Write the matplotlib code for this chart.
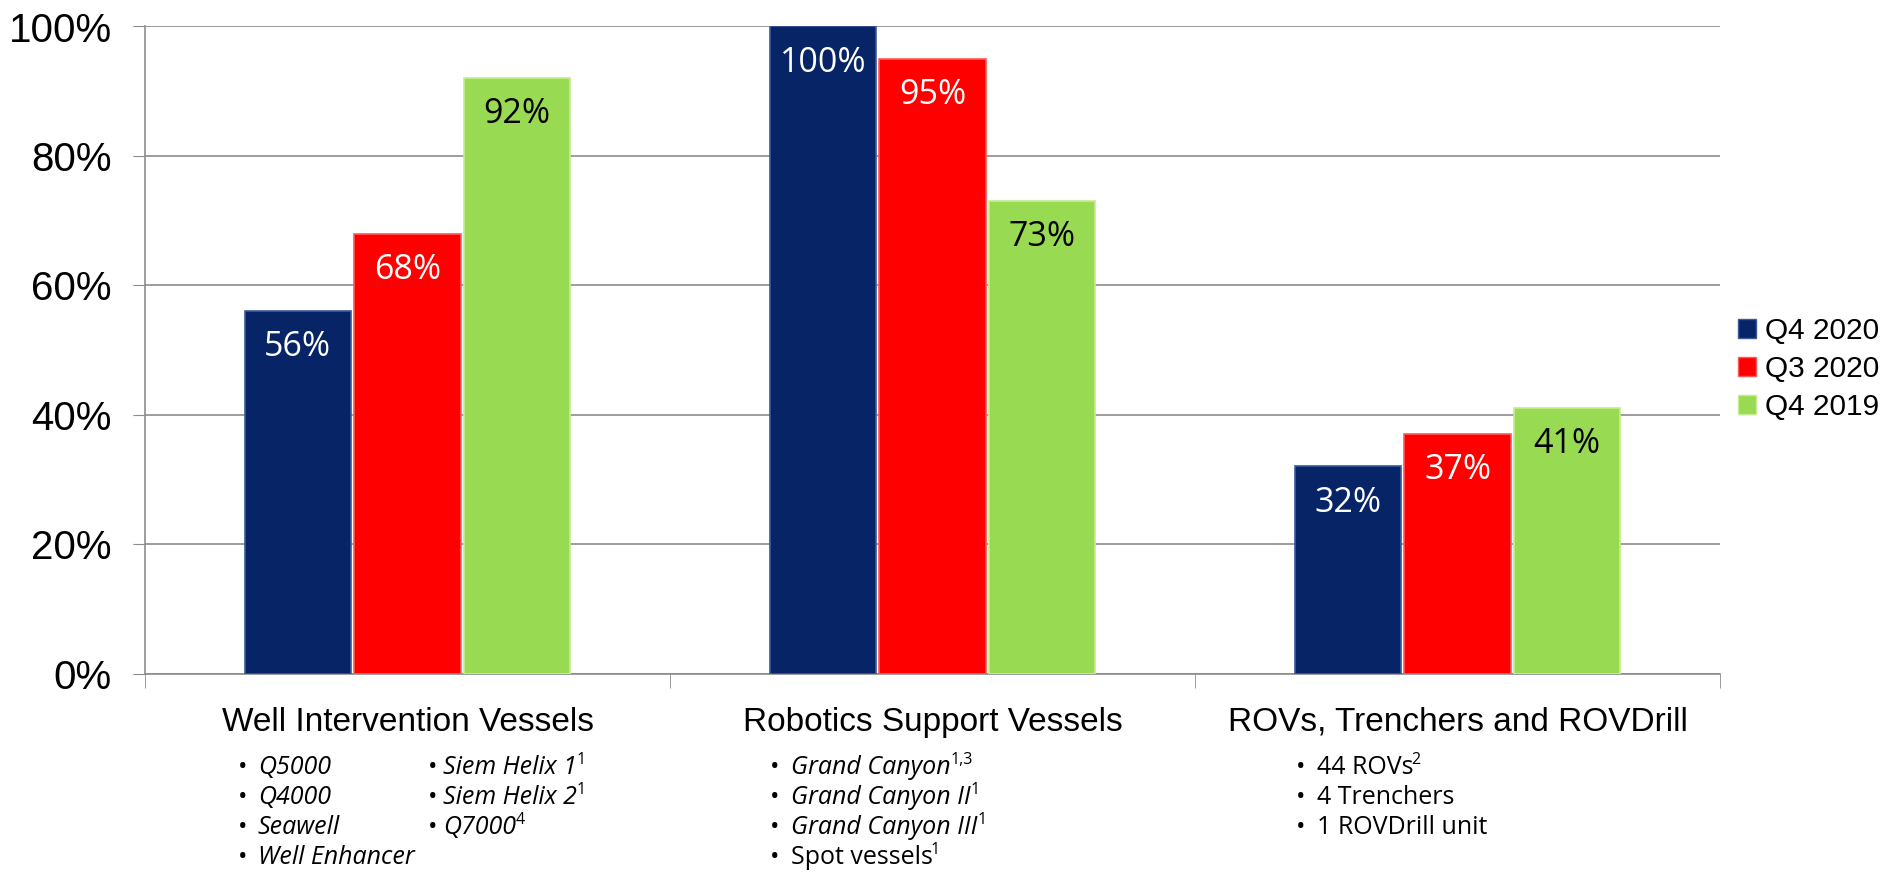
import matplotlib

matplotlib.use("Agg")

import matplotlib.pyplot as plt
import numpy as np
from matplotlib.patches import Patch

categories = ["Well Intervention Vessels", "Robotics Support Vessels", "ROVs, Trenchers and ROVDrill"]
series_names = ["Q4 2020", "Q3 2020", "Q4 2019"]
q4_2020 = [56, 100, 32]
q3_2020 = [68, 95, 37]
q4_2019 = [92, 73, 41]
yticks = [0, 20, 40, 60, 80, 100]

# bullet lists under each group: (text, footnote, italic)
well_items = [("Q5000", "", True), ("Q4000", "", True), ("Seawell", "", True), ("Well Enhancer", "", True)]
well_items_2 = [("Siem Helix 1", "1", True), ("Siem Helix 2", "1", True), ("Q7000", "4", True)]
robotics_items = [
    ("Grand Canyon", "1,3", True),
    ("Grand Canyon II", "1", True),
    ("Grand Canyon III", "1", True),
    ("Spot vessels", "1", False),
]
rov_items = [("44 ROVs", "2", False), ("4 Trenchers", "", False), ("1 ROVDrill unit", "", False)]

COLORS = ["#062466", "#FF0000", "#98DA52"]
EDGES = ["#3C5A9A", "#FF5A5A", "#C4EE8E"]
LABEL_COLORS = ["white", "white", "black"]

W, H = 1896, 872
fig = plt.figure(figsize=(W / 100, H / 100), dpi=100)
ax = fig.add_axes([145 / W, 1 - 673.5 / H, (1720 - 145) / W, (673.5 - 26.5) / H])

x = np.arange(len(categories))
width = 0.202
step = 0.209
for i, (name, vals) in enumerate(zip(series_names, [q4_2020, q3_2020, q4_2019])):
    bars = ax.bar(x + (i - 1) * step, vals, width, color=COLORS[i], edgecolor=EDGES[i],
                  linewidth=1.2, zorder=3, label=name)
    for rect, v in zip(bars, vals):
        ax.annotate(f"{v}%", (rect.get_x() + rect.get_width() / 2, v), xytext=(0, -26),
                    textcoords="offset points", ha="center", va="center",
                    fontsize=24.5, family="Open Sans", color=LABEL_COLORS[i], zorder=4)

ax.set_xlim(-0.5, 2.5)
ax.set_ylim(0, 100)
ax.set_yticks(yticks)
ax.set_yticklabels([f"{t}%" for t in yticks], fontsize=29, family="Liberation Sans")
ax.tick_params(axis="y", length=9, color="#8C8C8C", pad=15)
ax.grid(axis="y", color="#8C8C8C", linewidth=1.2, zorder=0)

ax.set_xticks(x)
ax.set_xticklabels(categories, fontsize=24, family="Liberation Sans")
ax.set_xticks([-0.5, 0.5, 1.5, 2.5], minor=True)
ax.tick_params(axis="x", which="major", length=0, pad=24)
ax.tick_params(axis="x", which="minor", length=10, color="#8C8C8C")

for side in ["top", "right"]:
    ax.spines[side].set_visible(False)
for side in ["left", "bottom"]:
    ax.spines[side].set_color("#8C8C8C")
    ax.spines[side].set_linewidth(1.2)

handles = [Patch(facecolor=c, edgecolor=e) for c, e in zip(COLORS, EDGES)]
fig.legend(handles, series_names, loc="center left", bbox_to_anchor=(1738 / W, 1 - 369 / H),
           frameon=False, prop={"family": "Liberation Sans", "size": 21.5},
           handlelength=0.6, handleheight=0.6, handletextpad=0.3, labelspacing=0.35,
           borderaxespad=0, borderpad=0)

row_y = [767, 797, 827, 857]
renderer = fig.canvas.get_renderer()


def bullet_list(items, bx, tx):
    for yy, (label, note, italic) in zip(row_y, items):
        fig.text(bx / W, 1 - yy / H, "•", fontsize=18, family="Open Sans", va="center", ha="left")
        t = fig.text(tx / W, 1 - yy / H, label, fontsize=18, family="Open Sans",
                     style="italic" if italic else "normal", va="center", ha="left")
        if note:
            bb = t.get_window_extent(renderer)
            gap = 0 if italic else -2
            fig.text((bb.x1 + gap) / W, 1 - (yy - 7) / H, note, fontsize=11.5, family="Open Sans",
                     va="center", ha="left")


bullet_list(well_items, 238, 258)
bullet_list(well_items_2, 428, 443)
bullet_list(robotics_items, 770, 791)
bullet_list(rov_items, 1296, 1317)

fig.savefig("out.png", dpi=100)
